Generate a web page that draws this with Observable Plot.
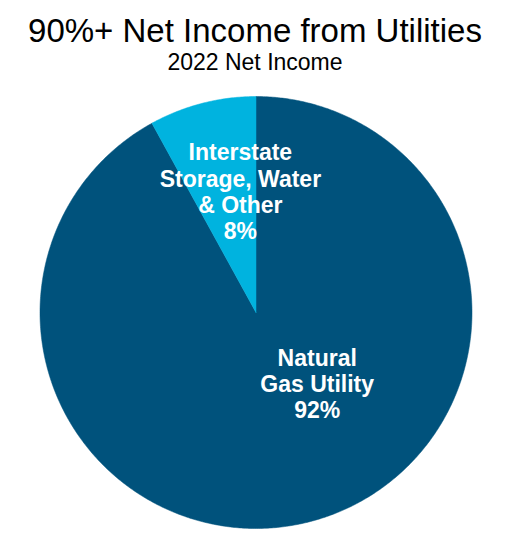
<!DOCTYPE html>
<html>
<head>
<meta charset="utf-8">
<script src="https://cdn.jsdelivr.net/npm/d3@7"></script>
<script src="https://cdn.jsdelivr.net/npm/@observablehq/plot@0.6"></script>
<style>
  html, body { margin: 0; padding: 0; background: #fff; }
  body { width: 510px; height: 543px; overflow: hidden; font-family: "Liberation Sans", Arial, sans-serif; }
  #title { box-sizing: border-box; height: 47px; padding-top: 14px; font-size: 33px; line-height: 33px; text-align: center; color: #000; }
  #sub { box-sizing: border-box; height: 30px; padding-top: 3.5px; font-size: 23px; line-height: 23px; text-align: center; color: #000; }
  #chart svg { display: block; }
</style>
</head>
<body>
<div id="title">90%+ Net Income from Utilities</div>
<div id="sub">2022 Net Income</div>
<div id="chart"></div>
<script>
const categories = ["Natural Gas Utility", "Interstate Storage, Water & Other"];
const shares = [92, 8];
const labels = ["Natural\nGas Utility\n92%", "Interstate\nStorage, Water\n& Other\n8%"];
const colors = ["#00527c", "#00b3df"];

const R = 216;
const total = d3.sum(shares);
let acc = 0;
const slices = categories.map((name, i) => {
  const a0 = acc / total * 2 * Math.PI;
  acc += shares[i];
  const a1 = acc / total * 2 * Math.PI;
  return {name, label: labels[i], a0, a1, mid: (a0 + a1) / 2};
});

const verts = [];
for (const s of slices) {
  verts.push({name: s.name, x: 0, y: 0});
  const n = Math.max(2, Math.ceil((s.a1 - s.a0) / (Math.PI / 360)));
  for (let k = 0; k <= n; k++) {
    const a = s.a0 + (s.a1 - s.a0) * k / n;
    verts.push({name: s.name, x: R * Math.sin(a), y: -R * Math.cos(a)});
  }
  verts.push({name: s.name, x: 0, y: 0});
}

const labelPos = (s, f) => ({...s, x: R * f * Math.sin(s.mid), y: -R * f * Math.cos(s.mid)});

const W = 510, H = 466;
const chart = Plot.plot({
  width: W,
  height: H,
  margin: 0,
  x: {domain: [-255.5, 254.5], range: [0, W], axis: null},
  y: {domain: [-235, 231], range: [0, H], axis: null},
  color: {domain: categories, range: colors},
  style: {fontFamily: "'Liberation Sans', Arial, sans-serif", background: "#fff"},
  marks: [
    Plot.line(verts, {x: "x", y: "y", z: "name", fill: "name", stroke: "name", strokeWidth: 0.5, curve: "linear"}),
    Plot.text([labelPos(slices[0], 0.32)], {x: "x", y: "y", text: "label", fill: "white", fontSize: 23, fontWeight: "bold", lineHeight: 1.14, dx: 44, dy: 4}),
    Plot.text([labelPos(slices[1], 0.57)], {x: "x", y: "y", text: "label", fill: "white", fontSize: 23, fontWeight: "bold", lineHeight: 1.14, dx: 15, dy: -2})
  ]
});
document.getElementById("chart").appendChild(chart);
</script>
</body>
</html>
